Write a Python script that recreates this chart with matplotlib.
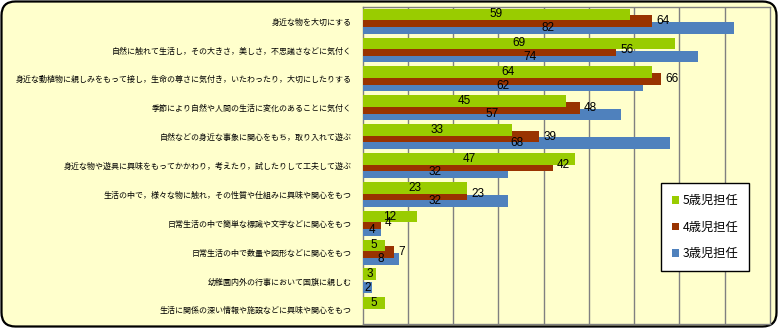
import numpy as np
import matplotlib.pyplot as plt
from matplotlib.patches import FancyBboxPatch, Patch
from matplotlib.transforms import IdentityTransform

plt.rcParams['font.family'] = ['Noto Sans CJK JP', 'DejaVu Sans']

categories = [
    "身近な物を大切にする",
    "自然に触れて生活し，その大きさ，美しさ，不思議さなどに気付く",
    "身近な動植物に親しみをもって接し，生命の尊さに気付き，いたわったり，大切にしたりする",
    "季節により自然や人間の生活に変化のあることに気付く",
    "自然などの身近な事象に関心をもち，取り入れて遊ぶ",
    "身近な物や遊具に興味をもってかかわり，考えたり，試したりして工夫して遊ぶ",
    "生活の中で，様々な物に触れ，その性質や仕組みに興味や関心をもつ",
    "日常生活の中で簡単な標識や文字などに関心をもつ",
    "日常生活の中で数量や図形などに関心をもつ",
    "幼稚園内外の行事において国旗に親しむ",
    "生活に関係の深い情報や施設などに興味や関心をもつ",
]
age5 = [59, 69, 64, 45, 33, 47, 23, 12, 5, 3, 5]
age4 = [64, 56, 66, 48, 39, 42, 23, 4, 7, 0, 0]
age3 = [82, 74, 62, 57, 68, 32, 32, 4, 8, 2, 0]
series_names = ["5歳児担任", "4歳児担任", "3歳児担任"]
colors = ["#99CC00", "#993300", "#4F81BD"]
bg = "#FFFFCC"

fig = plt.figure(figsize=(7.79, 3.28), dpi=100, facecolor="white")

# rounded outer frame (pixel coordinates)
frame = FancyBboxPatch((1.5, 1.5), 775, 325, boxstyle="round,pad=0,rounding_size=14",
                       transform=IdentityTransform(), facecolor=bg, edgecolor="black",
                       linewidth=1.6, zorder=0)
fig.add_artist(frame)

ax = fig.add_axes([0.4656, 0.0113, 0.5228, 0.9683])
ax.set_facecolor(bg)

y = np.arange(len(categories))
h = 0.405
offs = [-0.23, 0.0, 0.23]
data = [age5, age4, age3]

# draw 3-year first so the upper bars overlap the lower ones
for k in [2, 1, 0]:
    vals = data[k]
    ax.barh(y + offs[k], vals, height=h, color=colors[k], zorder=3 + (2 - k))
    for yi, v in zip(y, vals):
        if v == 0:
            continue
        if k == 1:
            ax.annotate(str(v), (v, yi + offs[k]), xytext=(3, 0), textcoords="offset points",
                        ha="left", va="center", fontsize=8.5, family="Liberation Sans", zorder=10)
        else:
            ax.text(v / 2, yi + offs[k], str(v), ha="center", va="center",
                    fontsize=8.5, family="Liberation Sans", zorder=10)

ax.set_xlim(0, 90)
ax.set_ylim(len(categories) - 0.5, -0.5)
ax.set_xticks(np.arange(10, 90, 10))
ax.set_xticklabels([])
ax.set_yticks(y)
ax.set_yticklabels(categories, fontsize=5.75)
ax.tick_params(length=0, pad=8)
ax.grid(axis="x", color="#808080", linewidth=1, zorder=1)
for s in ax.spines.values():
    s.set_color("#808080")
    s.set_linewidth(1)

handles = [Patch(facecolor=c, edgecolor="none") for c in colors]
leg = ax.legend(handles, series_names, loc="upper left", bbox_to_anchor=(0.8481, 0.4411),
                bbox_transform=fig.transFigure, fontsize=8.8, frameon=True, fancybox=False,
                framealpha=1, edgecolor="black", handlelength=0.6, handleheight=0.6,
                handletextpad=0.3, labelspacing=1.1, borderpad=0.9, borderaxespad=0)
leg.get_frame().set_linewidth(1)
leg.set_zorder(20)

fig.savefig("out.png", dpi=100, facecolor="white")
